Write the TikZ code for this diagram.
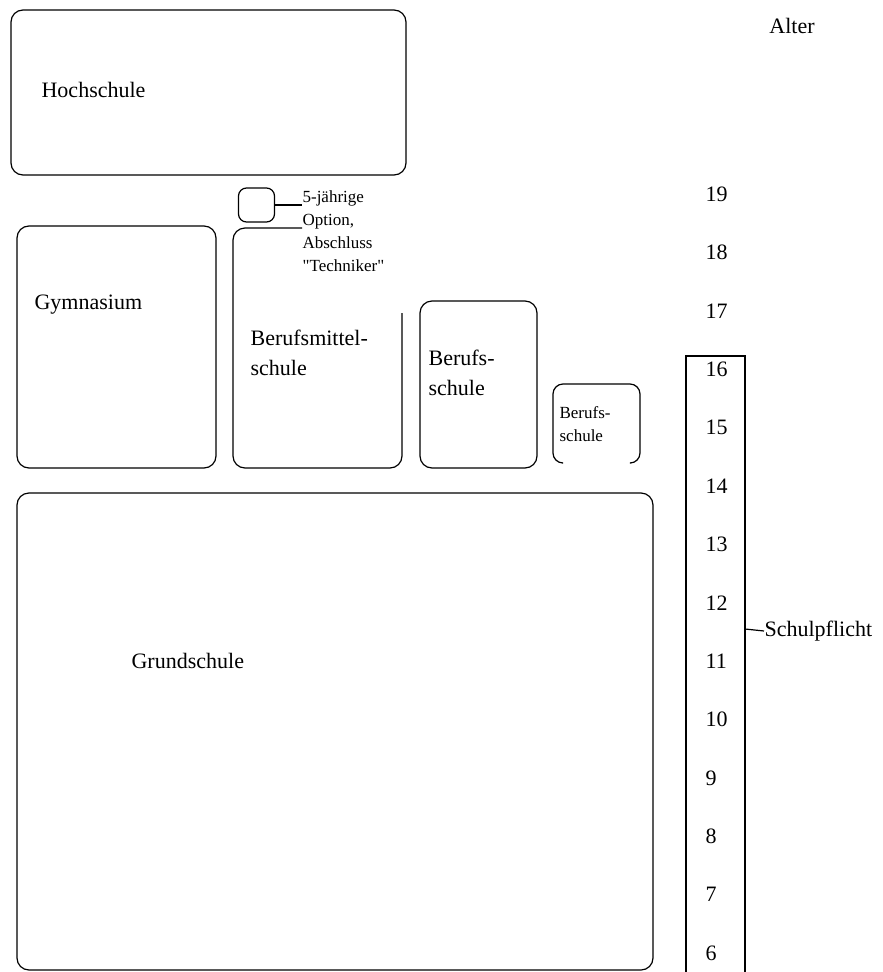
\documentclass[tikz,border=0pt]{standalone}
\usepackage{fontspec}
\setmainfont{Liberation Serif}
\newfontfamily\plainqfont{Liberation Serif}
\newcommand\qmark{{\plainqfont\char"22}}
\begin{document}
\begin{tikzpicture}[x=1pt,y=-1pt]
    \useasboundingbox (0,0) rectangle (883,972);
    \begin{scope}[box/.style={draw,rounded corners=12pt},line width=1.2pt,
        lbl/.style={anchor=west,inner sep=0pt,align=left,font=\fontsize{22}{30}\selectfont},
        sml/.style={inner sep=0pt,align=left,font=\fontsize{17}{23}\selectfont}]
        \draw[box] (11,10) rectangle (406,175);
        \draw[box] (17,226) rectangle (216,468);
        \draw[box] (402,313) -- (402,468) -- (233,468) -- (233,228) -- (302,228);
        \draw[box] (420,301) rectangle (537,468);
        \draw[box,rounded corners=10pt] (562,463) -- (553,463) -- (553,384) -- (640,384) -- (640,463) -- (631,463);
        \draw[box] (17,493) rectangle (653,970);
        \draw (686,972) -- (686,356) -- (745,356) -- (745,972);
        \node[lbl] (l0) at (41,90) {Hochschule};
        \node[lbl] (l1) at (34,305) {Gymnasium};
        \node[lbl] (l2) at (250,353) {Berufsmittel-\\schule};
        \node[lbl] (l3) at (428,373) {Berufs-\\schule};
        \node[sml,anchor=west] (l4) at (559,424) {Berufs-\\schule};
        \node[lbl] (l5) at (131,661) {Grundschule};
        \node[draw,rounded corners=8pt,minimum width=36pt,minimum height=34pt] (c0) at (256.5,205) {};
        \node[sml,anchor=north west] (t0) at (302,190) {5-jährige\\Option,\\Abschluss\\\qmark Techniker\qmark};
        \draw (c0.east) -- (t0.west |- c0.east);
        \node[lbl,anchor=center] (a0) at (792,26) {Alter};
        \foreach \a in {6,...,19}
            \node[lbl] (n\a) at (705,{953-58.38*(\a-6)}) {\a};
        \node[lbl] (s0) at (764,631) {Schulpflicht};
        \coordinate (k0) at (745,629);
        \draw (k0) -- (s0.west);
    \end{scope}
\end{tikzpicture}
\end{document}
